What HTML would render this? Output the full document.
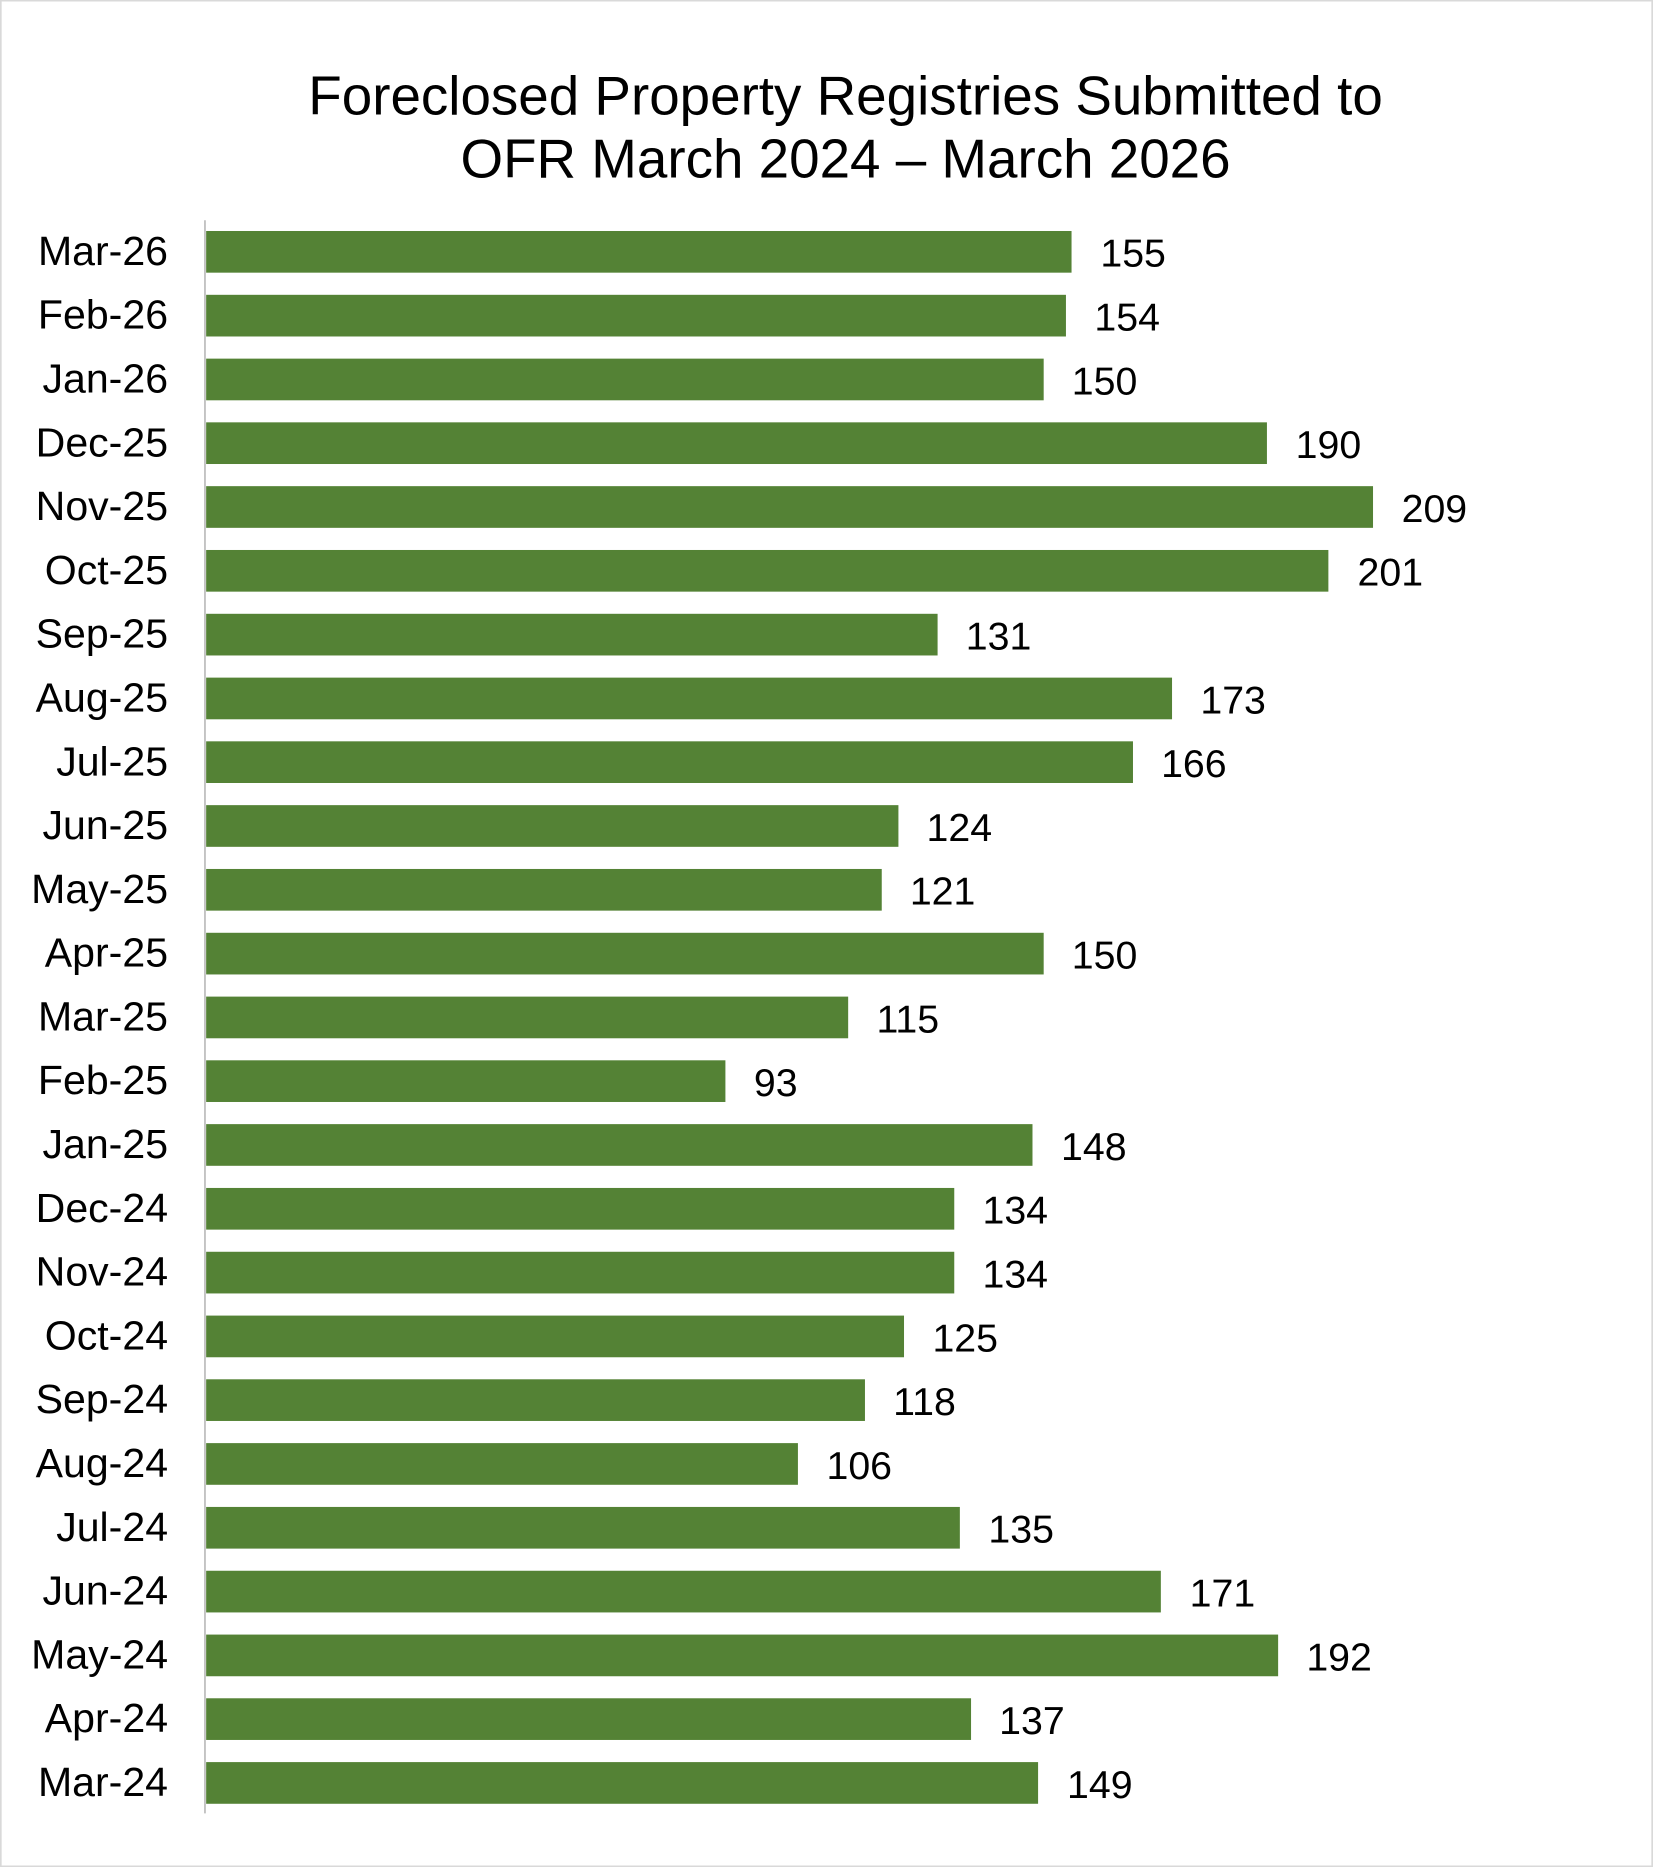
<!DOCTYPE html>
<html><head><meta charset="utf-8"><style>html,body{margin:0;padding:0;background:#fff}svg{display:block}</style></head>
<body>
<svg width="1653" height="1867" viewBox="0 0 1388 1568" xmlns="http://www.w3.org/2000/svg" font-family="Liberation Sans, Arial, sans-serif">
<rect x="0.5" y="0.5" width="1387" height="1567" fill="#fff" stroke="#d9d9d9" stroke-width="1.5"/>
<text x="710" y="96" font-size="46" text-anchor="middle" fill="#000">Foreclosed Property Registries Submitted to</text>
<text x="710" y="149" font-size="46" text-anchor="middle" fill="#000">OFR March 2024 – March 2026</text>
<line x1="172" y1="185" x2="172" y2="1523" stroke="#bfbfbf" stroke-width="1.5"/>
<g fill="#548235">
<rect x="173" y="194.0" width="726.8" height="35"/>
<rect x="173" y="247.6" width="722.1" height="35"/>
<rect x="173" y="301.2" width="703.4" height="35"/>
<rect x="173" y="354.7" width="890.9" height="35"/>
<rect x="173" y="408.3" width="980.0" height="35"/>
<rect x="173" y="461.9" width="942.5" height="35"/>
<rect x="173" y="515.5" width="614.3" height="35"/>
<rect x="173" y="569.1" width="811.2" height="35"/>
<rect x="173" y="622.6" width="778.4" height="35"/>
<rect x="173" y="676.2" width="581.4" height="35"/>
<rect x="173" y="729.8" width="567.4" height="35"/>
<rect x="173" y="783.4" width="703.4" height="35"/>
<rect x="173" y="837.0" width="539.2" height="35"/>
<rect x="173" y="890.5" width="436.1" height="35"/>
<rect x="173" y="944.1" width="694.0" height="35"/>
<rect x="173" y="997.7" width="628.3" height="35"/>
<rect x="173" y="1051.3" width="628.3" height="35"/>
<rect x="173" y="1104.9" width="586.1" height="35"/>
<rect x="173" y="1158.4" width="553.3" height="35"/>
<rect x="173" y="1212.0" width="497.0" height="35"/>
<rect x="173" y="1265.6" width="633.0" height="35"/>
<rect x="173" y="1319.2" width="801.8" height="35"/>
<rect x="173" y="1372.8" width="900.3" height="35"/>
<rect x="173" y="1426.3" width="642.4" height="35"/>
<rect x="173" y="1479.9" width="698.7" height="35"/>
</g>
<g font-size="34.5" text-anchor="end" fill="#000">
<text x="141" y="222.5">Mar-26</text>
<text x="141" y="276.1">Feb-26</text>
<text x="141" y="329.7">Jan-26</text>
<text x="141" y="383.2">Dec-25</text>
<text x="141" y="436.8">Nov-25</text>
<text x="141" y="490.4">Oct-25</text>
<text x="141" y="544.0">Sep-25</text>
<text x="141" y="597.6">Aug-25</text>
<text x="141" y="651.1">Jul-25</text>
<text x="141" y="704.7">Jun-25</text>
<text x="141" y="758.3">May-25</text>
<text x="141" y="811.9">Apr-25</text>
<text x="141" y="865.5">Mar-25</text>
<text x="141" y="919.0">Feb-25</text>
<text x="141" y="972.6">Jan-25</text>
<text x="141" y="1026.2">Dec-24</text>
<text x="141" y="1079.8">Nov-24</text>
<text x="141" y="1133.4">Oct-24</text>
<text x="141" y="1186.9">Sep-24</text>
<text x="141" y="1240.5">Aug-24</text>
<text x="141" y="1294.1">Jul-24</text>
<text x="141" y="1347.7">Jun-24</text>
<text x="141" y="1401.3">May-24</text>
<text x="141" y="1454.8">Apr-24</text>
<text x="141" y="1508.4">Mar-24</text>
</g>
<g font-size="33" fill="#000">
<text x="924" y="224.0">155</text>
<text x="919" y="277.6">154</text>
<text x="900" y="331.2">150</text>
<text x="1088" y="384.7">190</text>
<text x="1177" y="438.3">209</text>
<text x="1140" y="491.9">201</text>
<text x="811" y="545.5">131</text>
<text x="1008" y="599.1">173</text>
<text x="975" y="652.6">166</text>
<text x="778" y="706.2">124</text>
<text x="764" y="759.8">121</text>
<text x="900" y="813.4">150</text>
<text x="736" y="867.0">115</text>
<text x="633" y="920.5">93</text>
<text x="891" y="974.1">148</text>
<text x="825" y="1027.7">134</text>
<text x="825" y="1081.3">134</text>
<text x="783" y="1134.9">125</text>
<text x="750" y="1188.4">118</text>
<text x="694" y="1242.0">106</text>
<text x="830" y="1295.6">135</text>
<text x="999" y="1349.2">171</text>
<text x="1097" y="1402.8">192</text>
<text x="839" y="1456.3">137</text>
<text x="896" y="1509.9">149</text>
</g>
</svg>
</body></html>
